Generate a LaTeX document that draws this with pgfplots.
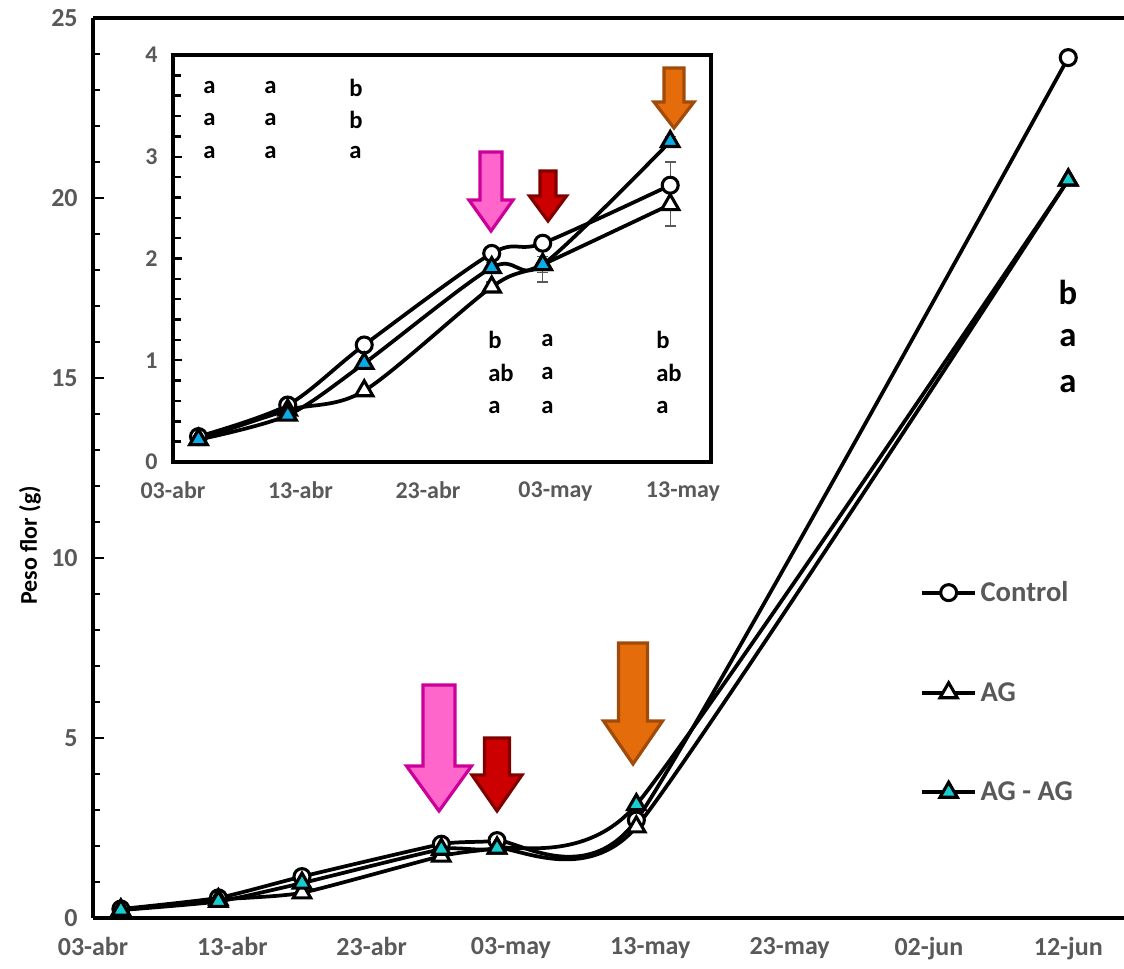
\documentclass[border=0pt]{standalone}
\usepackage{fontspec}
\setmainfont{Carlito}
\usepackage{pgfplots}
\usepackage{pgfplotstable}
\pgfplotsset{compat=1.18}
\definecolor{tickgray}{RGB}{89,89,89}
\definecolor{cyanmain}{RGB}{24,204,208}
\definecolor{bluein}{RGB}{10,172,232}
\definecolor{pinkfill}{RGB}{255,102,204}
\definecolor{pinkdraw}{RGB}{204,0,153}
\definecolor{redfill}{RGB}{204,0,0}
\definecolor{reddraw}{RGB}{128,0,0}
\definecolor{orfill}{RGB}{228,108,10}
\definecolor{ordraw}{RGB}{160,75,10}

\pgfplotstableread{
x ctrl ctrle ag age agag agage
2 0.25 0.02 0.22 0.02 0.22 0.02
9 0.56 0.03 0.51 0.03 0.46 0.03
15 1.15 0.04 0.70 0.04 0.97 0.05
25 2.05 0.06 1.72 0.05 1.91 0.05
29 2.15 0.05 1.94 0.17 1.94 0.08
39 2.72 0.23 2.53 0.21 3.15 0.05
70 23.9 0 20.5 0 20.5 0
}\maindata

\pgfplotstableread{
x ctrl ctrle ag age agag agage
2 0.25 0.02 0.22 0.02 0.22 0.02
9 0.56 0.03 0.51 0.03 0.46 0.03
15 1.15 0.04 0.70 0.04 0.97 0.05
25 2.05 0.06 1.72 0.05 1.91 0.05
29 2.15 0.05 1.94 0.17 1.94 0.08
39 2.72 0.23 2.53 0.21 3.15 0.05
}\insetdata

% tip x, tip y (px), length, head length, shaft width, head width, fill, draw
\newcommand{\darrow}[8]{%
 \draw[line width=2.4pt, fill=#7, draw=#8, line join=miter] (#1,#2) -- ++({-#6/2},{-#4}) -- ++({(#6-#5)/2},0) -- ++(0,{-(#3-#4)}) -- ++(#5,0) -- ++(0,{#3-#4}) -- ++({(#6-#5)/2},0) -- cycle;}

\pgfplotsset{
  serie/.style={black, line width=2.8pt, smooth, tension=0.5},
  ctrlmark/.style={mark=*, mark size=6pt, mark options={fill=white, line width=2.3pt}},
  agmark/.style={mark=triangle*, mark size=7.5pt, mark options={fill=white, line width=2.3pt}},
  ticklab/.style={font=\fontsize{19.5}{21}\selectfont\bfseries\color{tickgray}},
}

\begin{document}
\begin{tikzpicture}
\useasboundingbox (0pt,0pt) rectangle (843pt,-726.75pt);

% ---------------- main axis ----------------
\begin{axis}[
  at={(69.75pt,-688.5pt)}, anchor=south west,
  width=773.25pt, height=675pt, scale only axis,
  xmin=0, xmax=74, ymin=0, ymax=25,
  axis x line*=bottom, axis y line*=left,
  axis line style={line width=2.6pt},
  clip=false,
  xtick={0,10,20,30,40,50,60,70},
  xticklabels={03-abr,13-abr,23-abr,03-may,13-may,23-may,02-jun,12-jun},
  ytick={0,5,10,15,20,25},
  minor y tick num=4,
  tick align=inside,
  x tick style={draw=none},
  y tick style={line width=1.4pt, black},
  major tick length=8pt, minor tick length=5pt,
  /pgf/number format/assume math mode=true,
  ticklabel style={ticklab},
  xticklabel style={yshift=-11pt},
  yticklabel style={xshift=-8pt},
  ylabel={Peso flor (g)},
  ylabel style={at={(axis description cs:-0.0611,0.414)}, anchor=center,
    font=\fontsize{18}{20}\selectfont\bfseries},
  legend style={at={(0.802,0.251)}, anchor=west, draw=none, fill=none,
    font=\fontsize{21.5}{24}\selectfont\bfseries\color{tickgray},
    row sep=54pt, inner sep=0pt, nodes={inner sep=2.5pt}},
  legend cell align=left,
  legend image code/.code={\draw[mark repeat=2,mark phase=2,#1] plot coordinates {(0pt,0pt) (20pt,0pt) (40pt,0pt)};},
]
\draw[line width=2.6pt] (rel axis cs:0,1) -- (rel axis cs:1,1);
\addplot[serie, tension=0.32, ctrlmark] table[x=x, y=ctrl] {\maindata};
\addlegendentry{Control}
\addplot[serie, tension=0.32, agmark] table[x=x, y=ag] {\maindata};
\addlegendentry{AG}
\addplot[serie, tension=0.32, mark=triangle*, mark size=7.5pt, mark options={fill=cyanmain, line width=2.3pt}] table[x=x, y=agag] {\maindata};
\addlegendentry{AG - AG}
\end{axis}

% ---------------- inset axis ----------------
\begin{axis}[
  at={(129.75pt,-346.5pt)}, anchor=south west,
  width=403.5pt, height=305.25pt, scale only axis,
  xmin=0, xmax=42.2, ymin=0, ymax=4,
  axis background/.style={fill=white},
  axis line style={line width=2.6pt},
  clip=false,
  xtick={0,10,20,30,40},
  xticklabels={03-abr,13-abr,23-abr,03-may,13-may},
  ytick={0,1,2,3,4},
  minor y tick num=4,
  tick align=inside,
  ytick pos=left,
  x tick style={draw=none},
  y tick style={line width=1.8pt, black},
  major tick length=7pt, minor tick length=6pt,
  /pgf/number format/assume math mode=true,
  ticklabel style={font=\fontsize{18}{20}\selectfont\bfseries\color{tickgray}},
  xticklabel style={yshift=-11pt},
  yticklabel style={xshift=-8pt},
]
\addplot[serie, ctrlmark, error bars/.cd, y dir=both, y explicit,
  error bar style={tickgray, line width=1pt}, error mark options={tickgray, line width=1pt, mark size=4pt, rotate=90}]
  table[x=x, y=ctrl, y error=ctrle] {\insetdata};
\addplot[serie, agmark, error bars/.cd, y dir=both, y explicit,
  error bar style={tickgray, line width=1pt}, error mark options={tickgray, line width=1pt, mark size=4pt, rotate=90}]
  table[x=x, y=ag, y error=age] {\insetdata};
\addplot[serie, mark=triangle*, mark size=7.5pt, mark options={fill=bluein, line width=2.3pt}, error bars/.cd, y dir=both, y explicit,
  error bar style={tickgray, line width=1pt}, error mark options={tickgray, line width=1pt, mark size=4pt, rotate=90}]
  table[x=x, y=agag, y error=agage] {\insetdata};
\end{axis}

% ---------------- annotations (pixel coordinates) ----------------
\begin{scope}[x=0.75pt, y=-0.75pt]
\darrow{439}{811}{126}{45}{32}{65}{pinkfill}{pinkdraw}
\darrow{497}{811}{73}{36}{25}{50}{redfill}{reddraw}
\darrow{633}{764}{121}{43}{29}{59}{orfill}{ordraw}
\darrow{491}{231}{79}{31}{22}{44}{pinkfill}{pinkdraw}
\darrow{548}{221}{50}{25}{16}{37}{redfill}{reddraw}
\darrow{674}{128}{60}{26}{20}{40}{orfill}{ordraw}

\begin{scope}[every node/.style={font=\fontsize{18.5}{20}\selectfont\bfseries, anchor=west, inner sep=0pt}]
\node at (203,88) {a}; \node at (203,120) {a}; \node at (203,153) {a};
\node at (264,88) {a}; \node at (264,120) {a}; \node at (264,153) {a};
\node at (349,88) {b}; \node at (349,120) {b}; \node at (349,153) {a};
\node at (488,340) {b}; \node at (488,373) {ab}; \node at (488,407) {a};
\node at (541,340) {a}; \node at (541,373) {a}; \node at (541,407) {a};
\node at (656,340) {b}; \node at (656,373) {ab}; \node at (656,407) {a};
\end{scope}
\begin{scope}[every node/.style={font=\fontsize{26}{28}\selectfont\bfseries, inner sep=0pt}]
\node at (1068,292) {b}; \node at (1068,338) {a}; \node at (1068,384) {a};
\end{scope}
\end{scope}
\end{tikzpicture}
\end{document}
